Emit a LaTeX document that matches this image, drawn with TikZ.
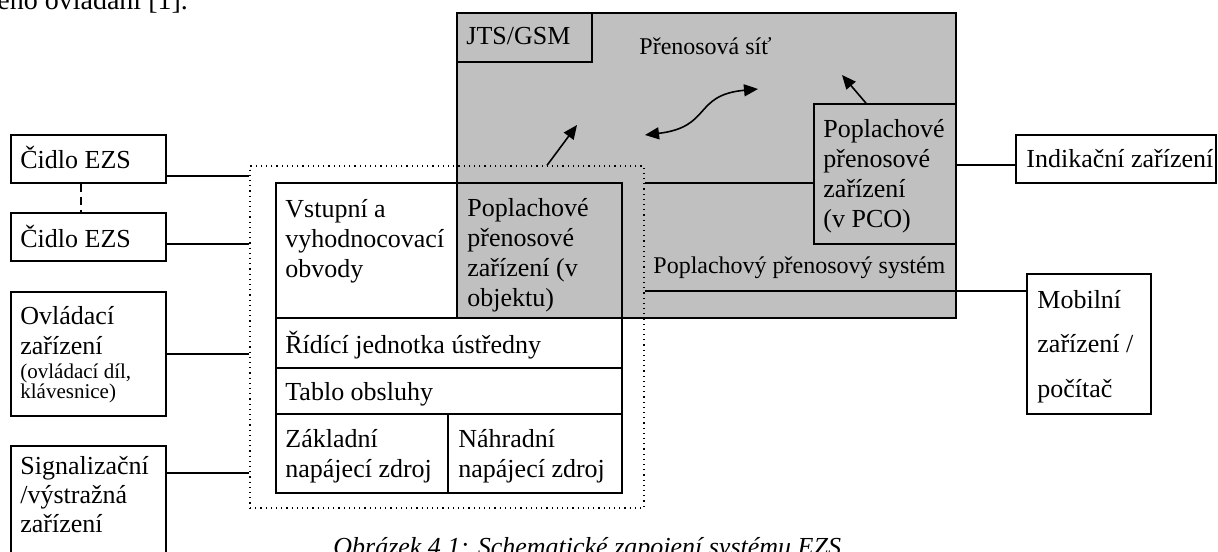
\documentclass[tikz,border=0pt]{standalone}
\usepackage{fontspec}
\setmainfont{Liberation Serif}
\usetikzlibrary{arrows.meta,fit}
\definecolor{netgrey}{RGB}{192,192,192}

\begin{document}
\begin{tikzpicture}[
    x=0.5pt, y=-0.5pt,
  box/.style={draw, line width=.8pt, inner sep=0pt},
  greybox/.style={box, fill=netgrey},
  dotbox/.style={draw, dotted, line width=.6pt, inner sep=0pt},
  txt/.style={anchor=base west, align=left, inner sep=0pt, font=\fontsize{13}{15}\selectfont},
  smalltxt/.style={txt, font=\fontsize{12}{14}\selectfont},
  link/.style={line width=.8pt},
  arr/.style={-{Triangle[length=7pt,width=6pt]}, line width=.8pt}
]
\useasboundingbox (0,0) rectangle (1218,551);
\clip (0,0) rectangle (1218,551);

% Page text
\node[txt, font=\fontsize{14}{16}\selectfont] (bodytxt) at (-3,10) {ěno ovládání [1].};
\node[txt, font=\itshape\fontsize{13}{15}\selectfont] (caption) at (333,555) {Obrázek 4.1: Schematické zapojení systému EZS};

% Transmission network (multi-line texts sit on their last baseline)
\node[greybox, fit={(457,13) (956,318)}] (net) {};
\node[box, fit={(457,13) (592,62)}] (jts) {};
\node[txt] (jtstxt) at (466,45) {JTS/GSM};
\node[smalltxt] (sittxt) at (639,55) {Přenosová síť};
\node[greybox, fit={(814,104) (956,244)}] (pco) {};
\node[txt] (pcotxt) at (823,227) {Poplachové\\přenosové\\zařízení\\(v PCO)};
\node[smalltxt] (ppstxt) at (653,273) {Poplachový přenosový systém};

% Control panel
\node[dotbox, fit={(250,166) (644,508)}] (ustr) {};
\node[box, fill=white, fit={(276,183) (457,318)}] (vstup) {};
\node[greybox, fit={(457,183) (622,318)}] (ppzobj) {};
\node[box, fit={(276,318) (622,368)}] (ridici) {};
\node[box, fit={(276,368) (622,414)}] (tablo) {};
\node[box, fit={(276,414) (448,493)}] (zakl) {};
\node[box, fit={(448,414) (622,493)}] (nahr) {};
\node[txt] (vstuptxt) at (285,277) {Vstupní a\\vyhodnocovací\\obvody};
\node[txt] (ppzobjtxt) at (467,306) {Poplachové\\přenosové\\zařízení (v\\objektu)};
\node[txt] (riditxt) at (285,353) {Řídící jednotka ústředny};
\node[txt] (tablotxt) at (285,400) {Tablo obsluhy};
\node[txt] (zakltxt) at (285,477) {Základní\\napájecí zdroj};
\node[txt] (nahrtxt) at (458,477) {Náhradní\\napájecí zdroj};

% Left devices
\node[box, fit={(11,135) (166,183)}] (cidlo1) {};
\node[box, fit={(11,213) (166,261)}] (cidlo2) {};
\node[box, fit={(11,292) (166,416)}] (ovl) {};
\node[box, fit={(11,446) (166,600)}] (sig) {};
\node[txt] (cidlo1txt) at (20,168) {Čidlo EZS};
\node[txt] (cidlo2txt) at (20,247) {Čidlo EZS};
\node[txt] (ovltxt) at (20,354) {Ovládací\\zařízení};
\node[txt, font=\fontsize{10.5}{10}\selectfont] (ovlsub) at (20,398) {(ovládací díl,\\klávesnice)};
\node[txt, font=\fontsize{13}{14.5}\selectfont] (sigtxt) at (20,532) {Signalizační\\/výstražná\\zařízení};

% Right devices
\node[box, fit={(1016,135) (1216,183)}] (indik) {};
\node[box, fit={(1027,274) (1151,414)}] (mobil) {};
\node[txt] (indiktxt) at (1026,167) {Indikační zařízení};
\node[txt, font=\fontsize{13}{22.25}\selectfont] (mobiltxt) at (1037,397) {Mobilní\\zařízení /\\počítač};

% Lines
\draw[link, dash pattern=on 4pt off 2.5pt] (cidlo1.south -| 81,0) -- (cidlo2.north -| 81,0);
\draw[link] (cidlo1.east |- 0,176) -- (ustr.west |- 0,176);
\draw[link] (cidlo2.east |- 0,244) -- (ustr.west |- 0,244);
\draw[link] (ovl.east) -- (ustr.west |- ovl.east);
\draw[link] (sig.east |- 0,473) -- (ustr.west |- 0,473);
\draw[link] (ustr.east |- 0,183) -- (pco.west |- 0,183);
\draw[link] (pco.east |- 0,165) -- (indik.west |- 0,165);
\draw[link] (ustr.east |- 0,291) -- (mobil.west |- 0,291);

% Arrows
\coordinate (tipobj) at (577,125);
\coordinate (tippco) at (842,75);
\coordinate (netl) at (645,135);
\coordinate (netr) at (758,89);
\draw[arr] (ustr.north -| 547,0) -- (tipobj);
\draw[arr] (pco.north -| 866,0) -- (tippco);
\draw[arr, {Triangle[length=7pt,width=6pt]}-{Triangle[length=7pt,width=6pt]}] (netl) .. controls (712,127) and (693,95) .. (netr);

\end{tikzpicture}
\end{document}
